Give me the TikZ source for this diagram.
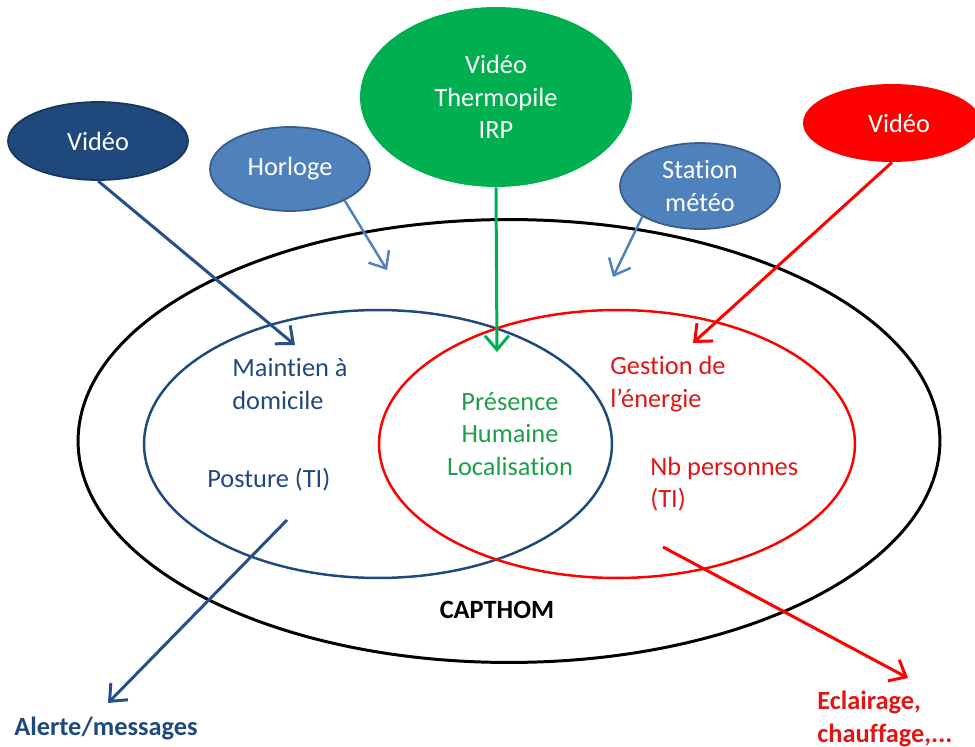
\documentclass[tikz,border=0pt]{standalone}
\usepackage{fontspec}
\setmainfont{Carlito}[Ligatures={NoCommon}]
\usetikzlibrary{shapes.geometric, arrows.meta}

\definecolor{navy}{HTML}{1F497D}
\definecolor{navyedge}{HTML}{17375E}
\definecolor{arrownavy}{HTML}{26508A}
\definecolor{sky}{HTML}{4F81BD}
\definecolor{skyedge}{HTML}{385D8A}
\definecolor{leaf}{HTML}{00B050}
\definecolor{leaftext}{HTML}{1E9E4A}
\definecolor{alarm}{HTML}{FF0000}
\definecolor{alarmtext}{HTML}{E01515}

\begin{document}
\begin{tikzpicture}[x=0.02cm, y=-0.02cm, font=\fontsize{15}{18.5}\selectfont,
	>={Straight Barb[length=2.8mm,width=4.8mm]},
	bubble/.style={ellipse, inner sep=0pt, text=white, align=center},
	zone/.style={ellipse, draw, inner sep=0pt},
	flow/.style={->, line width=1.7pt},
	txt/.style={inner sep=0pt, align=left}]

	\useasboundingbox (0,0) rectangle (975,747);

	% the three zones
	\node[zone, line width=1.7pt, minimum width=17.24cm, minimum height=8.86cm]
		(capthom) at (509,441) {};
	\node[zone, draw=navy, line width=1.4pt, minimum width=9.36cm, minimum height=5.36cm]
		(maison) at (378,444) {};
	\node[zone, draw=alarm, line width=1.4pt, minimum width=9.52cm, minimum height=5.36cm]
		(energie) at (617,444) {};

	% the sources
	\node[bubble, fill=navy, draw=navyedge, line width=1pt,
		minimum width=3.6cm, minimum height=1.56cm] (videoL) at (98,141)
		{Vidéo};
	\node[bubble, fill=sky, draw=skyedge, line width=1pt,
		minimum width=3.2cm, minimum height=1.68cm] (horloge) at (290,169)
		{Horloge};
	\node[bubble, fill=leaf,
		minimum width=5.44cm, minimum height=3.6cm] (capteurs) at (496,97)
		{Vidéo\\Thermopile\\IRP};
	\node[bubble, fill=sky, draw=skyedge, line width=1pt,
		minimum width=3.2cm, minimum height=1.72cm] (meteo) at (700,186)
		{Station\\météo};
	\node[bubble, fill=alarm,
		minimum width=3.56cm, minimum height=1.56cm] (videoR) at (892,123)
		{\hspace*{8pt}Vidéo};

	% the texts
	\node[txt, text=navy, anchor=west] (maintien) at (232,384)
		{Maintien à\\domicile};
	\node[txt, text=navy, anchor=west] (posture) at (207,480)
		{Posture (TI)};
	\node[txt, text=leaftext, align=center] (presence) at (510,434)
		{Présence\\Humaine\\Localisation};
	\node[txt, text=alarmtext, anchor=west] (gestion) at (610,384)
		{Gestion de\\l’énergie};
	\node[txt, text=alarmtext, anchor=west] (nbpers) at (650,484)
		{Nb personnes\\(TI)};
	\node[txt, font=\fontsize{15}{18.5}\selectfont\bfseries] (titre) at (497,610)
		{CAPTHOM};
	\node[txt, text=navy, anchor=west, font=\fontsize{15}{18.5}\selectfont\bfseries]
		(alerte) at (14,728) {Alerte/messages};
	\node[txt, text=alarmtext, anchor=west, font=\fontsize{15}{18.5}\selectfont\bfseries]
		(eclairage) at (817,719) {Eclairage,\\chauffage,...};

	\coordinate (tipL) at (295,345);
	\coordinate (tipH) at (387,270);
	\coordinate (tipG) at (497,352);
	\coordinate (tipS) at (613,277);
	\coordinate (tipR) at (693,343);
	\coordinate (postout) at (287,520);
	\coordinate (tipA) at (108,703);
	\coordinate (nbout) at (663,547);
	\coordinate (tipE) at (908,678);

	\draw[flow, draw=arrownavy] (videoL.south) -- (tipL);
	\draw[flow, draw=sky, line width=1.4pt] (horloge.-30) -- (tipH);
	\draw[flow, draw=leaf] (capteurs.south) -- (tipG);
	\draw[flow, draw=sky, line width=1.4pt] (meteo.-152) -- (tipS);
	\draw[flow, draw=alarm] (videoR.south) -- (tipR);
	\draw[flow, draw=arrownavy] (postout) -- (tipA);
	\draw[flow, draw=alarm] (nbout) -- (tipE);
\end{tikzpicture}
\end{document}
